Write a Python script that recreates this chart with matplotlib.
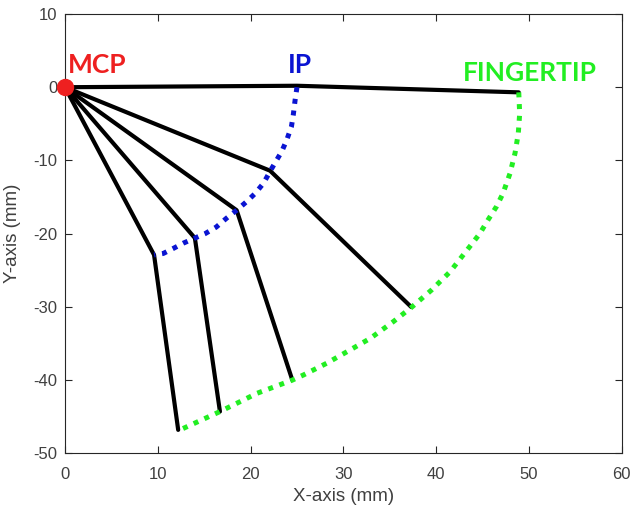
import matplotlib.pyplot as plt

# joint positions (mm)
mcp = (0.0, 0.0)
ip_x = [25.0, 22.1, 18.5, 14.0, 9.6]
ip_y = [0.2, -11.4, -16.8, -20.6, -22.9]
tip_x = [48.9, 37.3, 24.5, 16.7, 12.2]
tip_y = [-0.7, -30.0, -40.0, -44.3, -46.8]

# dotted trajectories of IP joint and fingertip
ip_arc_x = [25.0, 24.8, 24.6, 24.4, 23.9, 23.35, 22.6, 22.1, 21.4, 20.5, 19.6,
            18.5, 17.4, 16.3, 15.1, 14.0, 12.75, 11.7, 10.6, 9.6]
ip_arc_y = [0.0, -1.75, -3.8, -5.4, -7.2, -8.8, -10.4, -11.5, -13.1, -14.5, -15.6,
            -16.8, -17.9, -19.1, -20.0, -20.6, -21.3, -22.0, -22.7, -22.9]
tip_arc_x = [48.9, 49.0, 48.85, 48.5, 47.95, 47.2, 46.5, 45.6, 44.7, 43.6, 41.5,
             39.5, 37.4, 35.4, 32.9, 30.7, 28.2, 25.7, 24.5, 20.7, 16.7, 12.4]
tip_arc_y = [-0.7, -3.6, -6.3, -9.0, -11.8, -14.5, -16.3, -18.1, -20.0, -21.8, -25.2,
             -27.7, -30.0, -32.0, -34.3, -35.9, -37.7, -39.3, -40.0, -41.8, -44.3, -46.8]

RED = "#EE2020"
BLUE = "#0A14D2"
GREEN = "#22EE22"
AX_GRAY = "#262626"
TXT_GRAY = "#404040"

plt.rcParams.update({
    "font.family": "Liberation Sans",
    "axes.unicode_minus": False,
    "xtick.direction": "in",
    "ytick.direction": "in",
    "xtick.top": True,
    "ytick.right": True,
    "xtick.color": AX_GRAY,
    "ytick.color": AX_GRAY,
    "xtick.labelcolor": TXT_GRAY,
    "ytick.labelcolor": TXT_GRAY,
    "xtick.labelsize": 12,
    "ytick.labelsize": 12,
    "axes.edgecolor": AX_GRAY,
})

fig = plt.figure(figsize=(6.32, 5.09), dpi=100)
ax = fig.add_axes([0.1028, 0.1094, 0.881, 0.8631])

for ix, iy, tx, ty in zip(ip_x, ip_y, tip_x, tip_y):
    ax.plot([mcp[0], ix, tx], [mcp[1], iy, ty], color="black", lw=3.0,
            solid_capstyle="round", solid_joinstyle="round", zorder=2)

ax.plot(ip_arc_x, ip_arc_y, color=BLUE, lw=3.6, linestyle=(0, (1, 1.35)), zorder=3)
ax.plot(tip_arc_x, tip_arc_y, color=GREEN, lw=3.6, linestyle=(0, (1, 1.35)), zorder=3)
ax.plot([mcp[0]], [mcp[1]], "o", color=RED, markersize=11.5, zorder=4, clip_on=False)

ax.text(0.3, 3.0, "MCP", color=RED, fontsize=19, fontweight="bold",
        family="Lato", ha="left", va="center")
ax.text(25.3, 3.0, "IP", color=BLUE, fontsize=19, fontweight="bold",
        family="Lato", ha="center", va="center")
ax.text(42.9, 1.9, "FINGERTIP", color=GREEN, fontsize=19, fontweight="bold",
        family="Lato", ha="left", va="center")

ax.set_xlim(0, 60)
ax.set_ylim(-50, 10)
ax.set_xticks(range(0, 61, 10))
ax.set_yticks(range(-50, 11, 10))
ax.tick_params(length=5, width=0.8)
ax.tick_params(axis="x", pad=10)
ax.tick_params(axis="y", pad=5.5)
ax.set_xlabel("X-axis (mm)", color=TXT_GRAY, fontsize=13.5, labelpad=4)
ax.set_ylabel("Y-axis (mm)", color=TXT_GRAY, fontsize=13.5, labelpad=9)

fig.savefig("out.png", dpi=100)
